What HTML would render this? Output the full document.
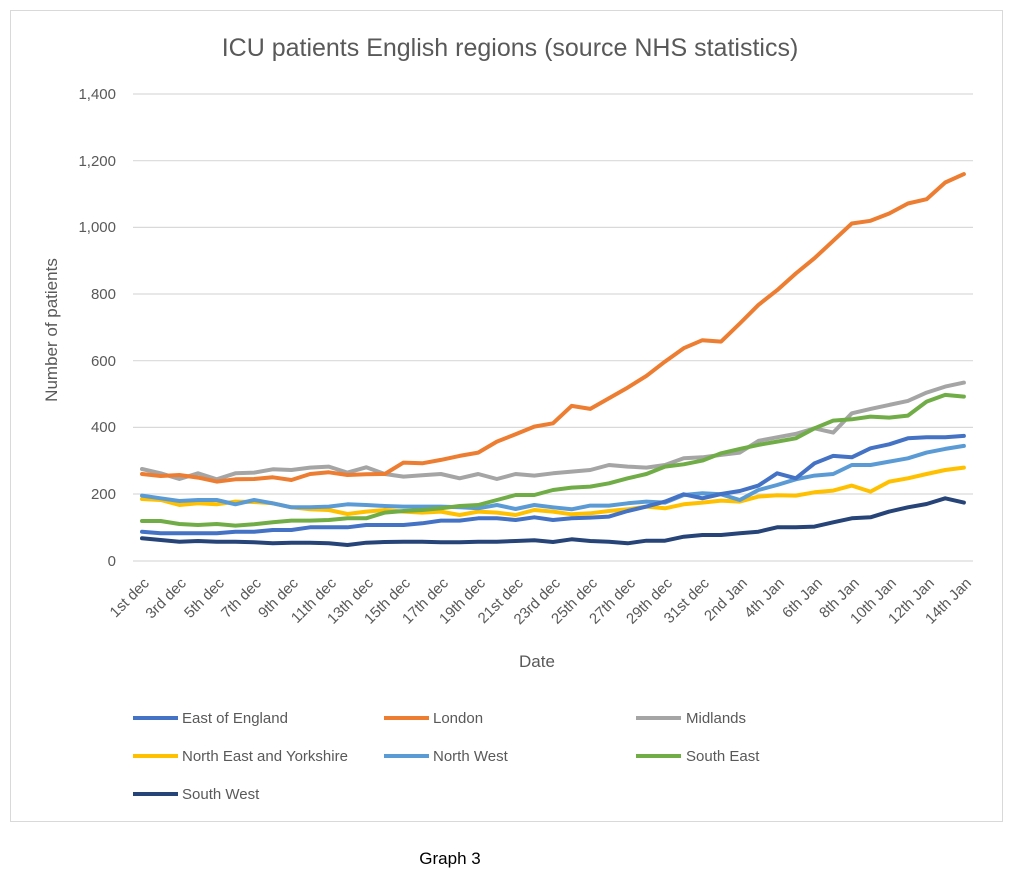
<!DOCTYPE html>
<html><head><meta charset="utf-8"><style>
html,body{margin:0;padding:0;background:#fff;}
svg{display:block;font-family:"Liberation Sans",sans-serif;}
</style></head><body>
<svg id="c" width="1024" height="889" viewBox="0 0 1024 889" xmlns="http://www.w3.org/2000/svg">
<rect x="10.5" y="10.5" width="992" height="811" fill="#fff" stroke="#d9d9d9"/>
<text x="510" y="56" font-size="25" fill="#595959" text-anchor="middle">ICU patients English regions (source NHS statistics)</text>
<g stroke="#d9d9d9" stroke-width="1.2">
<line x1="133" x2="973" y1="94" y2="94"/><line x1="133" x2="973" y1="160.7" y2="160.7"/><line x1="133" x2="973" y1="227.4" y2="227.4"/><line x1="133" x2="973" y1="294" y2="294"/><line x1="133" x2="973" y1="360.7" y2="360.7"/><line x1="133" x2="973" y1="427.4" y2="427.4"/><line x1="133" x2="973" y1="494" y2="494"/><line x1="133" x2="973" y1="561" y2="561"/>
</g>
<g font-size="15" fill="#595959" text-anchor="end">
<text x="116" y="99">1,400</text><text x="116" y="166">1,200</text><text x="116" y="232">1,000</text><text x="116" y="299">800</text><text x="116" y="366">600</text><text x="116" y="432">400</text><text x="116" y="499">200</text><text x="116" y="566">0</text>
</g>
<text transform="translate(57,330) rotate(-90)" font-size="17" fill="#595959" text-anchor="middle">Number of patients</text>
<g id="xl" font-size="15" fill="#595959" text-anchor="end">
<text transform="translate(150,584) rotate(-45)">1st dec</text>
<text transform="translate(187,584) rotate(-45)">3rd dec</text>
<text transform="translate(225,584) rotate(-45)">5th dec</text>
<text transform="translate(262,584) rotate(-45)">7th dec</text>
<text transform="translate(299,584) rotate(-45)">9th dec</text>
<text transform="translate(337,584) rotate(-45)">11th dec</text>
<text transform="translate(374,584) rotate(-45)">13th dec</text>
<text transform="translate(411,584) rotate(-45)">15th dec</text>
<text transform="translate(449,584) rotate(-45)">17th dec</text>
<text transform="translate(486,584) rotate(-45)">19th dec</text>
<text transform="translate(524,584) rotate(-45)">21st dec</text>
<text transform="translate(561,584) rotate(-45)">23rd dec</text>
<text transform="translate(598,584) rotate(-45)">25th dec</text>
<text transform="translate(636,584) rotate(-45)">27th dec</text>
<text transform="translate(673,584) rotate(-45)">29th dec</text>
<text transform="translate(710,584) rotate(-45)">31st dec</text>
<text transform="translate(748,584) rotate(-45)">2nd Jan</text>
<text transform="translate(785,584) rotate(-45)">4th Jan</text>
<text transform="translate(823,584) rotate(-45)">6th Jan</text>
<text transform="translate(860,584) rotate(-45)">8th Jan</text>
<text transform="translate(897,584) rotate(-45)">10th Jan</text>
<text transform="translate(935,584) rotate(-45)">12th Jan</text>
<text transform="translate(972,584) rotate(-45)">14th Jan</text>
</g>
<text x="537" y="667" font-size="17" fill="#595959" text-anchor="middle">Date</text>
<g id="lines" fill="none" stroke-width="4" stroke-linejoin="round" stroke-linecap="round"></g>
<g stroke-width="4">
<line x1="133" x2="178" y1="718" y2="718" stroke="#4472C4"/>
<line x1="384" x2="429" y1="718" y2="718" stroke="#ED7D31"/>
<line x1="636" x2="681" y1="718" y2="718" stroke="#A5A5A5"/>
<line x1="133" x2="178" y1="756" y2="756" stroke="#FFC000"/>
<line x1="384" x2="429" y1="756" y2="756" stroke="#5B9BD5"/>
<line x1="636" x2="681" y1="756" y2="756" stroke="#70AD47"/>
<line x1="133" x2="178" y1="794" y2="794" stroke="#264478"/>
</g>
<g font-size="15" fill="#595959">
<text x="182" y="723">East of England</text>
<text x="433" y="723">London</text>
<text x="686" y="723">Midlands</text>
<text x="182" y="761">North East and Yorkshire</text>
<text x="433" y="761">North West</text>
<text x="686" y="761">South East</text>
<text x="182" y="799">South West</text>
</g>
<text x="450" y="864" font-size="17" fill="#000" text-anchor="middle">Graph 3</text>
</svg>
<script>
var S=[
["#A5A5A5",[276,263,246,263,245,263,265,275,273,280,283,265,281,261,253,257,261,248,261,246,261,256,263,268,273,288,283,280,288,308,311,318,325,360,371,381,398,385,443,456,468,480,505,523,535]],
["#FFC000",[186,183,168,173,170,178,177,173,161,155,153,141,148,153,148,145,148,138,148,145,138,153,148,140,143,150,155,163,158,170,175,181,178,193,197,196,206,211,226,208,238,248,261,273,280]],
["#5B9BD5",[196,188,180,183,183,170,183,173,161,161,163,170,168,165,163,163,163,161,158,168,156,168,161,155,166,166,173,178,175,198,203,200,183,213,228,245,256,261,288,288,298,308,325,336,345]],
["#70AD47",[120,120,111,108,111,106,110,116,121,121,123,128,128,145,150,153,158,165,168,183,198,198,213,220,223,233,248,261,283,290,301,323,336,348,358,368,398,421,425,433,430,436,478,498,493]],
["#264478",[68,63,58,60,58,58,56,53,55,55,53,48,55,57,58,58,56,56,58,58,60,62,57,65,60,58,53,61,61,73,78,78,83,88,101,101,103,116,128,131,148,161,171,188,175]],
["#4472C4",[88,83,83,83,83,88,88,93,93,101,101,101,108,108,108,113,121,121,128,128,123,131,123,128,130,133,150,163,178,200,188,201,210,226,263,248,293,315,311,338,350,368,371,371,375]],
["#ED7D31",[261,255,258,250,238,245,246,251,243,261,266,258,260,261,295,293,303,315,325,358,380,403,413,465,456,488,520,555,598,638,662,658,712,768,812,862,908,960,1012,1020,1042,1072,1085,1135,1160]]
];
var g=document.getElementById("lines"),ns="http://www.w3.org/2000/svg";
S.forEach(function(s){var p=document.createElementNS(ns,"polyline");
p.setAttribute("stroke",s[0]);
p.setAttribute("points",s[1].map(function(v,i){return (142+18.68*i).toFixed(1)+","+(561-v*66.7/200).toFixed(1)}).join(" "));
g.appendChild(p);});
</script>
</body></html>
